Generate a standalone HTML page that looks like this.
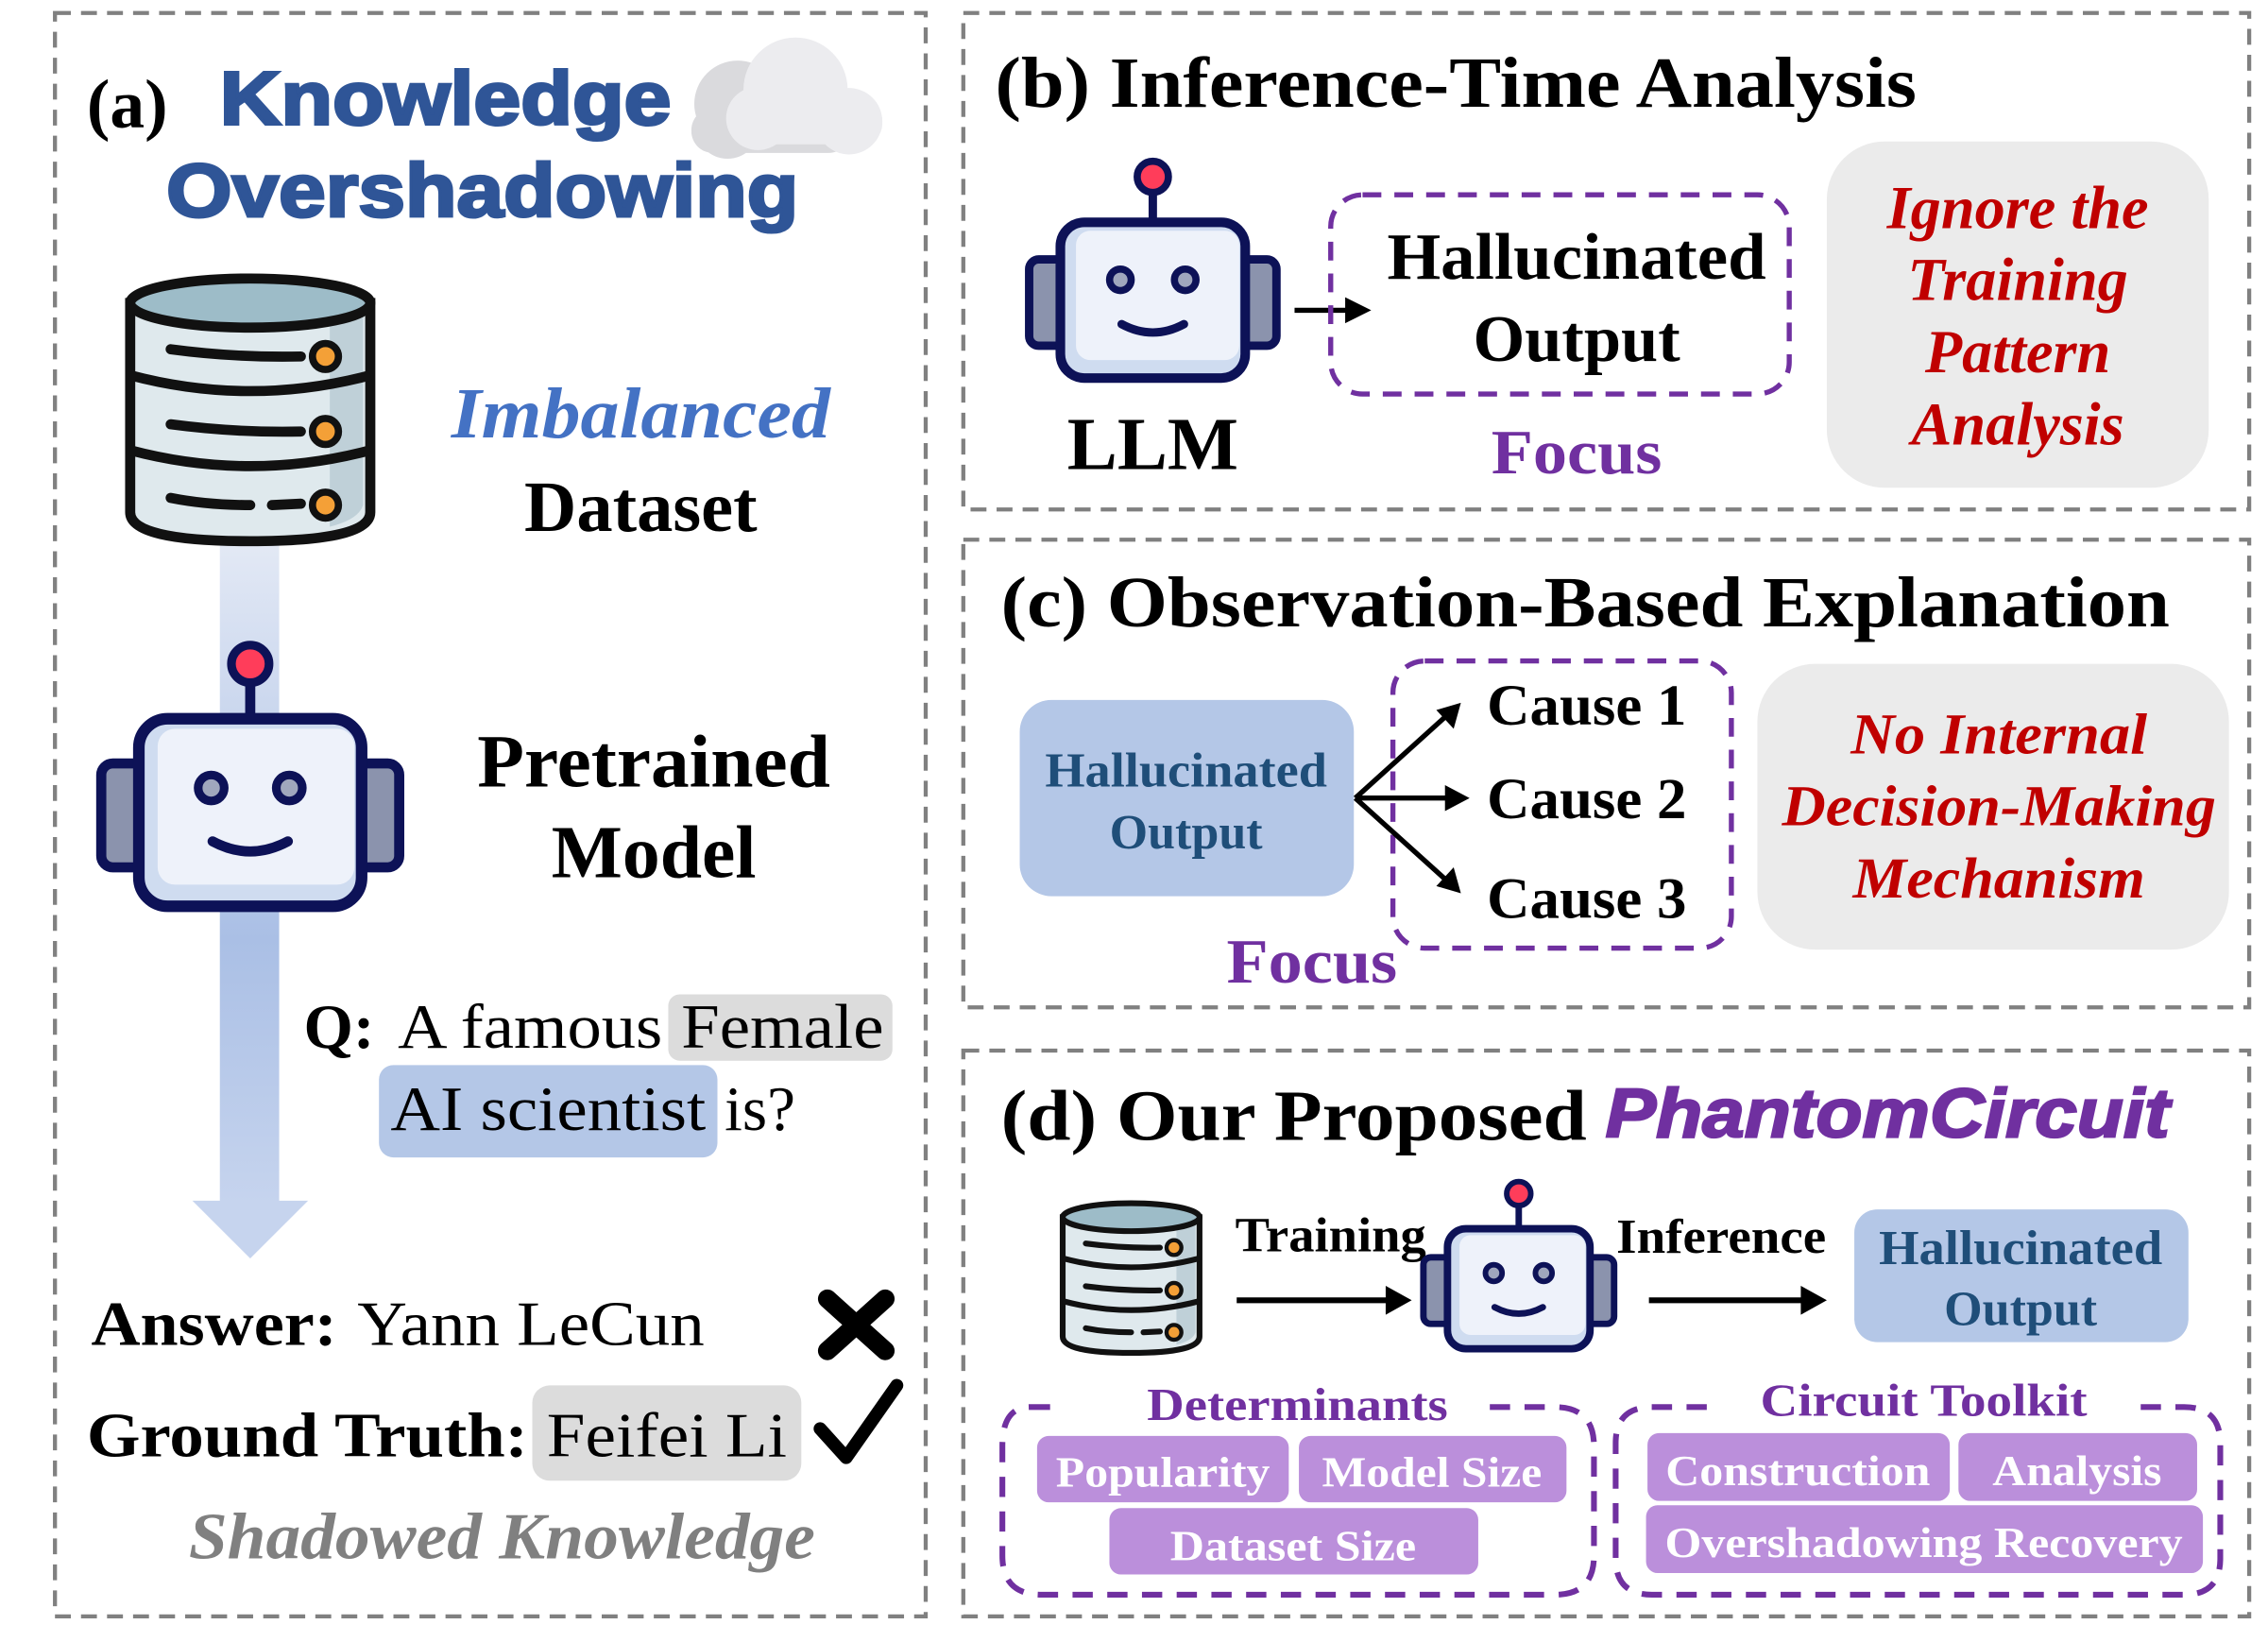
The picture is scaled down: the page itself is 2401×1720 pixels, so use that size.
<!DOCTYPE html>
<html><head><meta charset="utf-8"><style>
html,body{margin:0;padding:0;background:#fff;}
svg{display:block;}
text{font-family:"Liberation Serif",serif;}
.b{font-weight:bold;}
.sans{font-family:"Liberation Sans",sans-serif;}
</style></head><body>
<svg width="2401" height="1720" viewBox="0 0 1568 1126" preserveAspectRatio="none" xmlns="http://www.w3.org/2000/svg">
<defs>
<linearGradient id="ag" x1="0" y1="0" x2="0" y2="1">
<stop offset="0" stop-color="#e3e9f5"/><stop offset="0.6" stop-color="#aabfe5"/><stop offset="1" stop-color="#c6d4ee"/>
</linearGradient>
<g id="robot">
<line x1="0" y1="-65" x2="0" y2="-92" stroke="#0d1257" stroke-width="7"/>
<circle cx="0" cy="-103" r="13" fill="#ff3d5a" stroke="#0d1257" stroke-width="6"/>
<rect x="-103" y="-34" width="32" height="72" rx="8" fill="#8b93ad" stroke="#0d1257" stroke-width="7"/>
<rect x="71" y="-34" width="32" height="72" rx="8" fill="#8b93ad" stroke="#0d1257" stroke-width="7"/>
<rect x="-77" y="-65" width="154" height="130" rx="20" fill="#cfdcf0" stroke="#0d1257" stroke-width="8"/>
<rect x="-64" y="-58" width="136" height="108" rx="12" fill="#eef2fa"/>
<circle cx="-27" cy="-17" r="9" fill="#a0a7bd" stroke="#0d1257" stroke-width="6"/>
<circle cx="27" cy="-17" r="9" fill="#a0a7bd" stroke="#0d1257" stroke-width="6"/>
<path d="M-26 20 Q0 34 26 20" fill="none" stroke="#0d1257" stroke-width="7" stroke-linecap="round"/>
</g>
<g id="db">
<path d="M-83 20 L-83 165 Q-83 185 0 185 Q83 185 83 165 L83 20 Z" fill="#dfe9ed" stroke="#111" stroke-width="7"/>
<path d="M55 25 L55 175 Q75 170 78 160 L78 25 Z" fill="#bfd0d8"/>
<ellipse cx="0" cy="20" rx="83" ry="17" fill="#9dbcc8" stroke="#111" stroke-width="7"/>
<path d="M-83 70 Q0 92 83 70" fill="none" stroke="#111" stroke-width="7"/>
<path d="M-83 122 Q0 144 83 122" fill="none" stroke="#111" stroke-width="7"/>
<path d="M-55 52 Q-10 58 35 57" fill="none" stroke="#111" stroke-width="7" stroke-linecap="round"/>
<path d="M-55 104 Q-10 110 35 109" fill="none" stroke="#111" stroke-width="7" stroke-linecap="round"/>
<path d="M-55 155 Q-30 160 0 160 M15 160 L35 159" fill="none" stroke="#111" stroke-width="7" stroke-linecap="round"/>
<circle cx="52" cy="57" r="9" fill="#f4a037" stroke="#111" stroke-width="5"/>
<circle cx="52" cy="109" r="9" fill="#f4a037" stroke="#111" stroke-width="5"/>
<circle cx="52" cy="160" r="9" fill="#f4a037" stroke="#111" stroke-width="5"/>
</g>
</defs>

<!-- panel borders -->
<g fill="none" stroke="#808080" stroke-width="2.8" stroke-dasharray="11 7">
<rect x="38" y="9" width="602" height="1111"/>
<rect x="666" y="9" width="889" height="344"/>
<rect x="666" y="374" width="889" height="324"/>
<rect x="666" y="728" width="889" height="392"/>
</g>

<!-- PANEL A -->
<text x="60" y="88" class="b" font-size="48">(a)</text>
<g fill="#dadadd"><circle cx="510" cy="72" r="30"/><circle cx="503" cy="88" r="22"/><rect x="478" y="75" width="110" height="31" rx="15"/></g>
<g fill="#ececef"><circle cx="550" cy="62" r="36"/><circle cx="587" cy="84" r="23"/><circle cx="524" cy="82" r="22"/><rect x="514" y="70" width="96" height="30" rx="14"/></g>
<text x="152" y="86" class="sans b" font-size="52" fill="#2f5597" stroke="#2f5597" stroke-width="2" textLength="312" lengthAdjust="spacingAndGlyphs">Knowledge</text>
<text x="115" y="150" class="sans b" font-size="52" fill="#2f5597" stroke="#2f5597" stroke-width="2" textLength="437" lengthAdjust="spacingAndGlyphs">Overshadowing</text>

<rect x="152" y="375" width="41" height="460" fill="url(#ag)"/>
<polygon points="133,832 213,832 173,872" fill="#c6d4ee"/>
<use href="#db" transform="translate(173,190)"/>
<use href="#robot" transform="translate(173,563)"/>

<text x="443" y="303" class="b" font-style="italic" font-size="50" fill="#4472c4" text-anchor="middle" textLength="262" lengthAdjust="spacingAndGlyphs">Imbalanced</text>
<text x="443" y="368" class="b" font-size="50" text-anchor="middle">Dataset</text>
<text x="452" y="545" class="b" font-size="52" text-anchor="middle" textLength="244" lengthAdjust="spacingAndGlyphs">Pretrained</text>
<text x="452" y="608" class="b" font-size="52" text-anchor="middle">Model</text>

<rect x="462" y="689" width="155" height="46" rx="8" fill="#dcdcdc"/>
<rect x="262" y="738" width="234" height="64" rx="10" fill="#b4c7e7"/>
<text x="210" y="726" font-size="44" class="b">Q:</text>
<text x="275" y="726" font-size="44" textLength="183" lengthAdjust="spacingAndGlyphs">A famous</text>
<text x="471" y="726" font-size="44" textLength="140" lengthAdjust="spacingAndGlyphs">Female</text>
<text x="270" y="783" font-size="44" textLength="218" lengthAdjust="spacingAndGlyphs">AI scientist</text>
<text x="501" y="783" font-size="44">is?</text>

<text x="63" y="932" font-size="44" class="b" textLength="170" lengthAdjust="spacingAndGlyphs">Answer:</text>
<text x="247" y="932" font-size="44" textLength="240" lengthAdjust="spacingAndGlyphs">Yann LeCun</text>
<path d="M572 900 L612 936 M612 900 L572 936" stroke="#000" stroke-width="13" stroke-linecap="round"/>
<rect x="368" y="960" width="186" height="66" rx="12" fill="#dcdcdc"/>
<text x="60" y="1009" font-size="44" class="b" textLength="305" lengthAdjust="spacingAndGlyphs">Ground Truth:</text>
<text x="378" y="1009" font-size="44" textLength="166" lengthAdjust="spacingAndGlyphs">Feifei Li</text>
<path d="M567 990 L585 1010 L620 960" fill="none" stroke="#000" stroke-width="9" stroke-linecap="round" stroke-linejoin="round"/>
<text x="347" y="1080" class="b" font-style="italic" font-size="46" fill="#808080" text-anchor="middle" textLength="433" lengthAdjust="spacingAndGlyphs">Shadowed Knowledge</text>

<!-- PANEL B -->
<text x="688" y="74" class="b" font-size="50" textLength="637" lengthAdjust="spacingAndGlyphs">(b) Inference-Time Analysis</text>
<use href="#robot" transform="translate(797,208) scale(0.83)"/>
<text x="797" y="325" class="b" font-size="52" text-anchor="middle">LLM</text>
<line x1="895" y1="215" x2="933" y2="215" stroke="#000" stroke-width="3.5"/>
<polygon points="948,215 930,206 930,224" fill="#000"/>
<rect x="920" y="135" width="317" height="138" rx="22" fill="none" stroke="#7030a0" stroke-width="3.5" stroke-dasharray="13 9"/>
<text x="1090" y="193" class="b" font-size="46" text-anchor="middle" textLength="262" lengthAdjust="spacingAndGlyphs">Hallucinated</text>
<text x="1090" y="250" class="b" font-size="46" text-anchor="middle">Output</text>
<text x="1090" y="328" class="b" font-size="44" fill="#7030a0" text-anchor="middle" textLength="118" lengthAdjust="spacingAndGlyphs">Focus</text>
<rect x="1263" y="98" width="264" height="240" rx="40" fill="#ebebeb"/>
<g class="b" font-style="italic" font-size="42" fill="#c00000" text-anchor="middle">
<text x="1395" y="158">Ignore the</text><text x="1395" y="208">Training</text><text x="1395" y="258">Pattern</text><text x="1395" y="308">Analysis</text></g>

<!-- PANEL C -->
<text x="692" y="434" class="b" font-size="50" textLength="808" lengthAdjust="spacingAndGlyphs">(c) Observation-Based Explanation</text>
<rect x="705" y="485" width="231" height="136" rx="22" fill="#b4c7e7"/>
<text x="820" y="545" class="b" font-size="34" fill="#1f4e79" text-anchor="middle" textLength="195" lengthAdjust="spacingAndGlyphs">Hallucinated</text>
<text x="820" y="588" class="b" font-size="34" fill="#1f4e79" text-anchor="middle">Output</text>
<rect x="963" y="458" width="234" height="199" rx="22" fill="none" stroke="#7030a0" stroke-width="3.5" stroke-dasharray="13 9"/>
<g stroke="#000" stroke-width="3.5"><line x1="937" y1="553" x2="1000" y2="496"/><line x1="937" y1="553" x2="1003" y2="553"/><line x1="937" y1="553" x2="1000" y2="610"/></g>
<polygon points="1010,487 1005,505 993,492" fill="#000"/>
<polygon points="1016,553 999,544 999,562" fill="#000"/>
<polygon points="1010,619 993,614 1005,601" fill="#000"/>
<g class="b" font-size="40"><text x="1028" y="502" textLength="138" lengthAdjust="spacingAndGlyphs">Cause 1</text><text x="1028" y="567" textLength="138" lengthAdjust="spacingAndGlyphs">Cause 2</text><text x="1028" y="636" textLength="138" lengthAdjust="spacingAndGlyphs">Cause 3</text></g>
<text x="907" y="681" class="b" font-size="44" fill="#7030a0" text-anchor="middle" textLength="118" lengthAdjust="spacingAndGlyphs">Focus</text>
<rect x="1215" y="460" width="326" height="198" rx="40" fill="#ebebeb"/>
<g class="b" font-style="italic" font-size="40" fill="#c00000" text-anchor="middle">
<text x="1382" y="522" textLength="205" lengthAdjust="spacingAndGlyphs">No Internal</text><text x="1382" y="572" textLength="300" lengthAdjust="spacingAndGlyphs">Decision-Making</text><text x="1382" y="622" textLength="202" lengthAdjust="spacingAndGlyphs">Mechanism</text></g>

<!-- PANEL D -->
<text x="692" y="790" class="b" font-size="50" textLength="405" lengthAdjust="spacingAndGlyphs">(d) Our Proposed</text>
<text x="1110" y="788" class="sans b" font-style="italic" font-size="48" fill="#7030a0" stroke="#7030a0" stroke-width="1.5" textLength="390" lengthAdjust="spacingAndGlyphs">PhantomCircuit</text>
<use href="#db" transform="translate(782,832) scale(0.57)"/>
<text x="920" y="867" class="b" font-size="34" text-anchor="middle" textLength="132" lengthAdjust="spacingAndGlyphs">Training</text>
<line x1="855" y1="901" x2="962" y2="901" stroke="#000" stroke-width="4"/>
<polygon points="976,901 958,891 958,911" fill="#000"/>
<use href="#robot" transform="translate(1050,893) scale(0.64)"/>
<text x="1190" y="868" class="b" font-size="34" text-anchor="middle" textLength="145" lengthAdjust="spacingAndGlyphs">Inference</text>
<line x1="1140" y1="901" x2="1250" y2="901" stroke="#000" stroke-width="4"/>
<polygon points="1263,901 1245,891 1245,911" fill="#000"/>
<rect x="1282" y="838" width="231" height="92" rx="16" fill="#b4c7e7"/>
<text x="1397" y="876" class="b" font-size="34" fill="#1f4e79" text-anchor="middle" textLength="196" lengthAdjust="spacingAndGlyphs">Hallucinated</text>
<text x="1397" y="918" class="b" font-size="34" fill="#1f4e79" text-anchor="middle">Output</text>

<g fill="none" stroke="#7030a0" stroke-width="4" stroke-dasharray="14 10">
<path d="M712 975 L730 975 M1030 975 L1075 975 Q1102 975 1102 1002 L1102 1078 Q1102 1105 1075 1105 L720 1105 Q693 1105 693 1078 L693 1002 Q693 975 712 975"/>
<path d="M1142 975 L1180 975 M1480 975 L1510 975 Q1535 975 1535 1000 L1535 1080 Q1535 1105 1510 1105 L1142 1105 Q1117 1105 1117 1080 L1117 1000 Q1117 975 1142 975"/>
</g>
<text x="897" y="984" class="b" font-size="32" fill="#7030a0" text-anchor="middle" textLength="208" lengthAdjust="spacingAndGlyphs">Determinants</text>
<text x="1330" y="981" class="b" font-size="32" fill="#7030a0" text-anchor="middle" textLength="226" lengthAdjust="spacingAndGlyphs">Circuit Toolkit</text>
<g fill="#bb8fdb">
<rect x="717" y="995" width="174" height="46" rx="8"/><rect x="898" y="995" width="185" height="46" rx="8"/><rect x="767" y="1045" width="255" height="46" rx="8"/>
<rect x="1139" y="993" width="209" height="47" rx="8"/><rect x="1354" y="993" width="165" height="47" rx="8"/><rect x="1138" y="1043" width="385" height="47" rx="8"/>
</g>
<g class="b" font-size="30" fill="#fff" text-anchor="middle">
<text x="804" y="1030" textLength="148" lengthAdjust="spacingAndGlyphs">Popularity</text><text x="990" y="1030" textLength="152" lengthAdjust="spacingAndGlyphs">Model Size</text><text x="894" y="1081" textLength="170" lengthAdjust="spacingAndGlyphs">Dataset Size</text>
<text x="1243" y="1029" textLength="183" lengthAdjust="spacingAndGlyphs">Construction</text><text x="1436" y="1029" textLength="117" lengthAdjust="spacingAndGlyphs">Analysis</text><text x="1330" y="1079" textLength="358" lengthAdjust="spacingAndGlyphs">Overshadowing Recovery</text>
</g>
</svg>
</body></html>
